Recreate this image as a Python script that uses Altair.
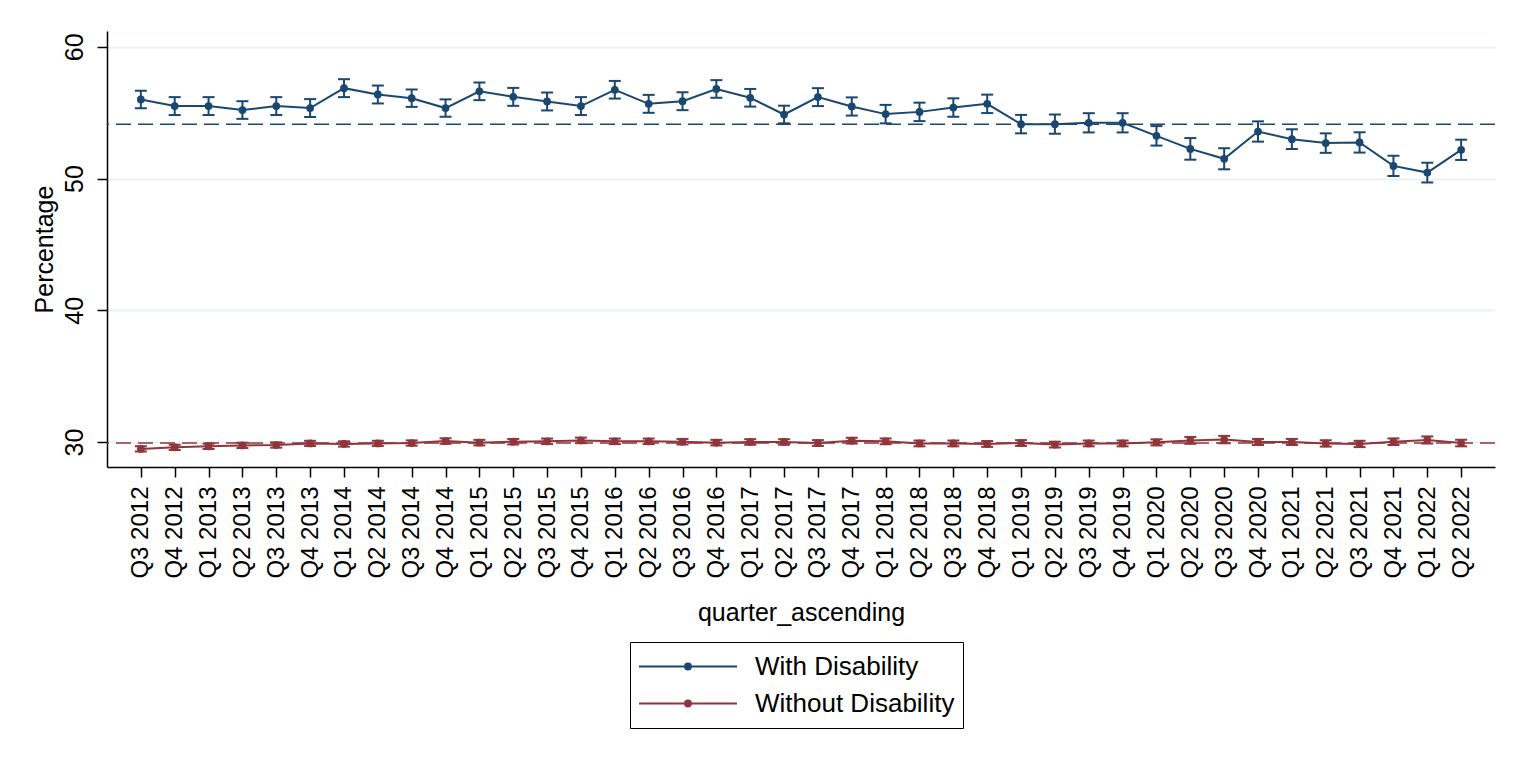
import pandas as pd
import altair as alt

quarters = [
    "Q3 2012", "Q4 2012", "Q1 2013", "Q2 2013", "Q3 2013", "Q4 2013",
    "Q1 2014", "Q2 2014", "Q3 2014", "Q4 2014", "Q1 2015", "Q2 2015",
    "Q3 2015", "Q4 2015", "Q1 2016", "Q2 2016", "Q3 2016", "Q4 2016",
    "Q1 2017", "Q2 2017", "Q3 2017", "Q4 2017", "Q1 2018", "Q2 2018",
    "Q3 2018", "Q4 2018", "Q1 2019", "Q2 2019", "Q3 2019", "Q4 2019",
    "Q1 2020", "Q2 2020", "Q3 2020", "Q4 2020", "Q1 2021", "Q2 2021",
    "Q3 2021", "Q4 2021", "Q1 2022", "Q2 2022",
]
series_names = ["With Disability", "Without Disability"]

with_disability = [
    56.00, 55.50, 55.50, 55.20, 55.50, 55.35, 56.86, 56.38, 56.10, 55.35,
    56.62, 56.20, 55.85, 55.50, 56.74, 55.67, 55.87, 56.80, 56.13, 54.86,
    56.18, 55.47, 54.89, 55.06, 55.39, 55.67, 54.13, 54.13, 54.23, 54.23,
    53.24, 52.25, 51.50, 53.57, 52.99, 52.69, 52.74, 50.96, 50.45, 52.18,
]
with_ci = [
    0.67, 0.68, 0.68, 0.67, 0.68, 0.68, 0.68, 0.68, 0.66, 0.66,
    0.67, 0.68, 0.68, 0.68, 0.67, 0.68, 0.68, 0.67, 0.67, 0.67,
    0.68, 0.69, 0.70, 0.70, 0.70, 0.70, 0.70, 0.73, 0.73, 0.73,
    0.74, 0.82, 0.80, 0.77, 0.75, 0.74, 0.77, 0.77, 0.75, 0.77,
]
without_disability = [
    29.47, 29.59, 29.67, 29.74, 29.77, 29.89, 29.85, 29.89, 29.92, 30.07,
    29.95, 30.02, 30.05, 30.12, 30.05, 30.05, 30.02, 29.95, 30.00, 30.00,
    29.92, 30.10, 30.05, 29.89, 29.89, 29.85, 29.92, 29.80, 29.89, 29.89,
    29.97, 30.12, 30.18, 30.00, 30.00, 29.89, 29.85, 30.02, 30.15, 29.92,
]
without_ci = [
    0.20, 0.20, 0.20, 0.20, 0.20, 0.20, 0.20, 0.20, 0.20, 0.21,
    0.21, 0.21, 0.21, 0.21, 0.21, 0.21, 0.21, 0.21, 0.21, 0.21,
    0.22, 0.22, 0.22, 0.22, 0.22, 0.22, 0.22, 0.22, 0.22, 0.22,
    0.23, 0.26, 0.28, 0.23, 0.23, 0.24, 0.24, 0.25, 0.27, 0.25,
]
overall_means = [54.13, 29.92]
colors = ["#1a476f", "#90353b"]

rows = []
for name, vals, cis in [
    (series_names[0], with_disability, with_ci),
    (series_names[1], without_disability, without_ci),
]:
    for q, v, c in zip(quarters, vals, cis):
        rows.append({"quarter": q, "series": name, "pct": v, "lo": v - c, "hi": v + c})
df = pd.DataFrame(rows)
means = pd.DataFrame({"series": series_names, "mean": overall_means})

FONT = "Liberation Sans"
series_scale = alt.Scale(domain=series_names, range=colors)
# line with a dot in the middle, like the Stata legend key
legend_symbol = "M-1,0H1M0.06,0A0.06,0.06,0,1,1,-0.06,0A0.06,0.06,0,1,1,0.06,0"
legend_kw = dict(
    title=None, orient="none", legendX=523, legendY=611, direction="vertical",
    symbolType=legend_symbol, symbolSize=9604, symbolStrokeWidth=2,
    symbolOpacity=1, clipHeight=33, rowPadding=4, padding=8, labelOffset=17,
    labelFontSize=26, labelFont=FONT, labelColor="black", labelLimit=400,
    strokeColor="black", fillColor="white",
)

x_enc = alt.X(
    "quarter:N", sort=quarters,
    scale=alt.Scale(type="point", padding=1.5),
    axis=alt.Axis(
        title="quarter_ascending", labelAngle=270, labelFontSize=24,
        tickSize=10, labelPadding=9, titleFontSize=25,
        titleX=694, titleY=153, titleAlign="center", titleBaseline="alphabetic",
    ),
)
y_scale = alt.Scale(domain=[28.1, 61.2], nice=False, zero=False)

base = alt.Chart(df)

mean_lines = alt.Chart(means).mark_rule(strokeDash=[15, 7], strokeWidth=1.5, opacity=1).encode(
    y=alt.Y("mean:Q", scale=y_scale),
    stroke=alt.Stroke("series:N", scale=series_scale),
)

bars = base.mark_rule(strokeWidth=2, opacity=1).encode(
    x=x_enc,
    y=alt.Y("lo:Q", scale=y_scale),
    y2="hi:Q",
    stroke=alt.Stroke("series:N", scale=series_scale),
)
caps_lo = base.mark_tick(size=12, thickness=2, opacity=1).encode(
    x=x_enc,
    y=alt.Y("lo:Q", scale=y_scale),
    fill=alt.Fill("series:N", scale=series_scale),
)
caps_hi = base.mark_tick(size=12, thickness=2, opacity=1).encode(
    x=x_enc,
    y=alt.Y("hi:Q", scale=y_scale),
    fill=alt.Fill("series:N", scale=series_scale),
)

lines = base.mark_line(strokeWidth=2, opacity=1).encode(
    x=x_enc,
    y=alt.Y(
        "pct:Q", scale=y_scale,
        axis=alt.Axis(
            title="Percentage", values=[30, 40, 50, 60], labelAngle=270,
            labelAlign="center", labelBaseline="alphabetic", labelFontSize=25,
            tickSize=10, labelPadding=15, titleFontSize=25, titleAngle=270,
            titleX=-55, titleY=218, titleAlign="center", titleBaseline="alphabetic",
            grid=True, gridColor="#eaf2f3", gridWidth=2,
        ),
    ),
    stroke=alt.Stroke("series:N", scale=series_scale, legend=alt.Legend(**legend_kw)),
)

dots = base.mark_point(filled=True, size=60, opacity=1).encode(
    x=x_enc,
    y=alt.Y("pct:Q", scale=y_scale),
    fill=alt.Fill("series:N", scale=series_scale, legend=alt.Legend(**legend_kw)),
)

chart = alt.layer(mean_lines, bars, caps_lo, caps_hi, lines, dots).properties(
    width=1388,
    height=436,
    autosize=alt.AutoSizeParams(type="none"),
    padding={"left": 99, "top": 23, "right": 27, "bottom": 286},
).configure(
    font=FONT,
).configure_axis(
    domainColor="black", domainWidth=1.5, tickColor="black", tickWidth=1.5,
    labelColor="black", titleColor="black", labelFont=FONT, titleFont=FONT,
    titleFontWeight="normal",
).configure_view(
    stroke=None,
)

chart.save("out.html", embed_options={"renderer": "svg", "actions": False})
